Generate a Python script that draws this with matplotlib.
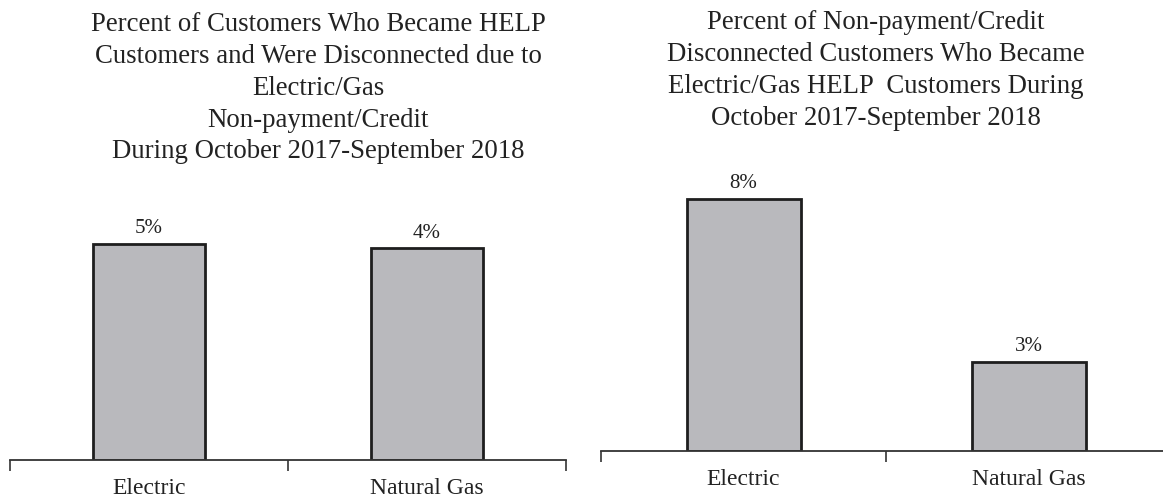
import matplotlib
matplotlib.use("Agg")
import matplotlib.pyplot as plt

categories = ["Electric", "Natural Gas"]
left_values = [4.55, 4.45]
left_labels = ["5%", "4%"]
right_values = [7.9, 2.8]
right_labels = ["8%", "3%"]
left_title = ("Percent of Customers Who Became HELP\nCustomers and Were Disconnected due to\n"
              "Electric/Gas\nNon-payment/Credit\nDuring October 2017-September 2018")
right_title = ("Percent of Non-payment/Credit\nDisconnected Customers Who Became\n"
               "Electric/Gas HELP  Customers During\nOctober 2017-September 2018")

plt.rcParams['font.family'] = ['Liberation Serif', 'DejaVu Serif']

W, H = 1163, 499
fig = plt.figure(figsize=(W / 100, H / 100), dpi=100)

def px_axes(x0, x1, ybot, ytop):
    return fig.add_axes([x0 / W, 1 - ybot / H, (x1 - x0) / W, (ybot - ytop) / H])

def draw(ax, values, labels, ymax):
    x = list(range(len(categories)))
    ax.bar(x, values, width=0.4, color='#b9b9bd', edgecolor='#1e1e1e', linewidth=2, zorder=2)
    for xi, v, lab in zip(x, values, labels):
        ax.annotate(lab, (xi, v), xytext=(0, 4), textcoords='offset points',
                    ha='center', va='bottom', fontsize=15, color='#222222')
    ax.set_xlim(-0.5, len(categories) - 0.5)
    ax.set_ylim(0, ymax)
    for s in ['top', 'left', 'right']:
        ax.spines[s].set_visible(False)
    ax.spines['bottom'].set_color('#333333')
    ax.spines['bottom'].set_linewidth(1.3)
    ax.set_yticks([])
    ax.set_xticks([i - 0.5 for i in range(len(categories) + 1)])
    ax.set_xticklabels([])
    ax.set_xticks(x, minor=True)
    ax.set_xticklabels(categories, minor=True, fontsize=17, color='#222222')
    ax.tick_params(axis='x', which='major', length=8, width=1.2, color='#333333', direction='out')
    ax.tick_params(axis='x', which='minor', length=0, pad=13)
    ax.set_facecolor('none')

ax1 = px_axes(10, 566, 460, 200)
draw(ax1, left_values, left_labels, 5.47)
ax2 = px_axes(601, 1171, 451, 160)
draw(ax2, right_values, right_labels, 9.12)

fig.text(318 / W, 1 - 12 / H, left_title, ha='center', va='top', fontsize=19.3,
         color='#222222', linespacing=1.36)
fig.text(876 / W, 1 - 10 / H, right_title, ha='center', va='top', fontsize=19.3,
         color='#222222', linespacing=1.36)

fig.savefig("out.png", dpi=100, facecolor='white')
